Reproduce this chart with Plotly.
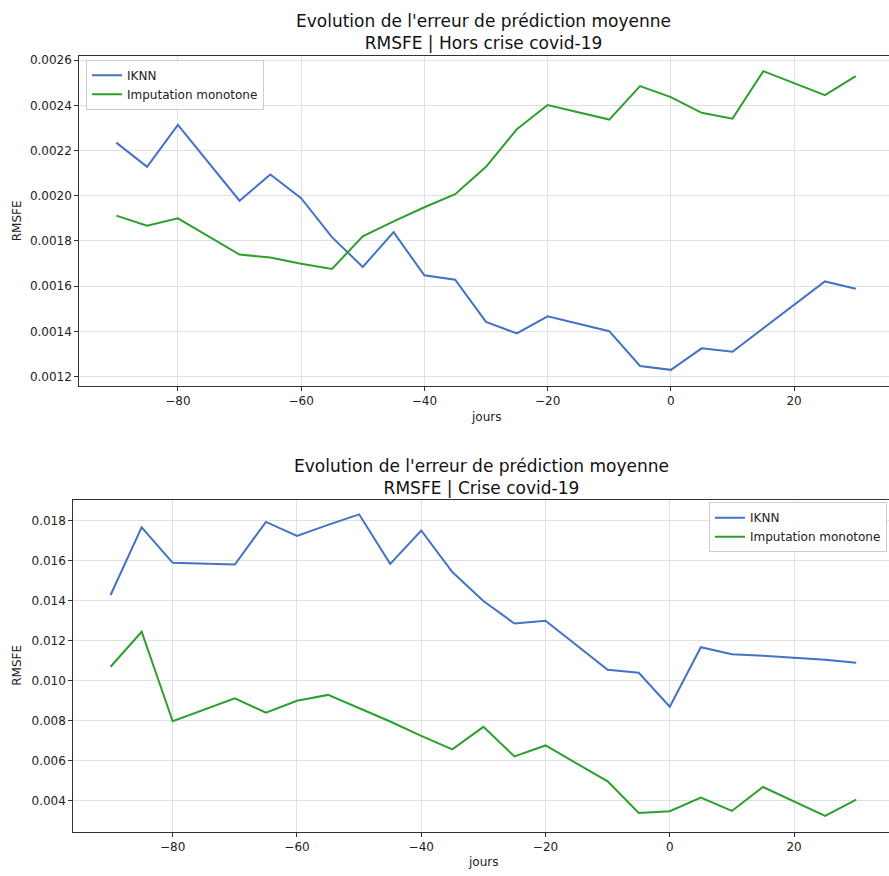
import plotly.graph_objects as go

# Horizon in days relative to the reference date
jours = [-90, -85, -80, -70, -65, -60, -55, -50, -45, -40, -35,
         -30, -25, -20, -10, -5, 0, 5, 10, 15, 25, 30]

# RMSFE outside the covid-19 crisis
hors_iknn = [0.002235, 0.002128, 0.002313, 0.001978, 0.002094, 0.001989,
             0.001817, 0.001685, 0.001839, 0.001648, 0.001629, 0.001442,
             0.001391, 0.001467, 0.001401, 0.001247, 0.001230, 0.001325,
             0.001310, 0.001413, 0.001621, 0.001589]
hors_monotone = [0.001912, 0.001868, 0.001900, 0.001740, 0.001727, 0.001699,
                 0.001676, 0.001821, 0.001887, 0.001949, 0.002007, 0.002128,
                 0.002294, 0.002401, 0.002337, 0.002485, 0.002436, 0.002367,
                 0.002341, 0.002551, 0.002445, 0.002529]

# RMSFE during the covid-19 crisis
crise_iknn = [0.01429, 0.01768, 0.01590, 0.01582, 0.01795, 0.01725,
              0.01780, 0.01833, 0.01585, 0.01752, 0.01544, 0.01399,
              0.01286, 0.01300, 0.01055, 0.01040, 0.00870, 0.01168,
              0.01133, 0.01125, 0.01105, 0.01090]
crise_monotone = [0.01070, 0.01245, 0.00797, 0.00912, 0.00840, 0.00900,
                  0.00929, 0.00862, 0.00796, 0.00724, 0.00656, 0.00769,
                  0.00621, 0.00676, 0.00496, 0.00338, 0.00347, 0.00415,
                  0.00348, 0.00468, 0.00323, 0.00405]

series_names = ["IKNN", "Imputation monotone"]
x_ticks = [-80, -60, -40, -20, 0, 20]
top_y_ticks = [0.0012, 0.0014, 0.0016, 0.0018, 0.0020, 0.0022, 0.0024, 0.0026]
bottom_y_ticks = [0.004, 0.006, 0.008, 0.010, 0.012, 0.014, 0.016, 0.018]

BLUE = "#4472c4"
GREEN = "#2ca02c"
FONT = "DejaVu Sans"
W, H = 889, 876

fig = go.Figure()

fig.add_trace(go.Scatter(x=jours, y=hors_iknn, name=series_names[0], mode="lines",
                         line=dict(color=BLUE, width=2), xaxis="x", yaxis="y",
                         legend="legend"))
fig.add_trace(go.Scatter(x=jours, y=hors_monotone, name=series_names[1], mode="lines",
                         line=dict(color=GREEN, width=2), xaxis="x", yaxis="y",
                         legend="legend"))
fig.add_trace(go.Scatter(x=jours, y=crise_iknn, name=series_names[0], mode="lines",
                         line=dict(color=BLUE, width=2), xaxis="x2", yaxis="y2",
                         legend="legend2"))
fig.add_trace(go.Scatter(x=jours, y=crise_monotone, name=series_names[1], mode="lines",
                         line=dict(color=GREEN, width=2), xaxis="x2", yaxis="y2",
                         legend="legend2"))


def px_x(p):
    return p / W


def px_y(p):
    return 1 - p / H


axis_common = dict(
    showline=True, linecolor="#333333", linewidth=1,
    ticks="outside", ticklen=4, tickcolor="#333333", tickwidth=1,
    showgrid=True, gridcolor="#e0e0e0", gridwidth=1,
    zeroline=False,
    tickfont=dict(family=FONT, size=12, color="#222222"),
)

# Top panel (x, y) and bottom panel (x2, y2)
fig.update_layout(
    xaxis=dict(domain=[px_x(79.3), 1], range=[-96, 35.4], tickvals=x_ticks,
               mirror=True, anchor="y", **axis_common),
    yaxis=dict(domain=[px_y(384), px_y(53.3)], range=[0.00116, 0.0026176],
               tickvals=top_y_ticks, tickformat=".4f", anchor="x", **axis_common),
    xaxis2=dict(domain=[px_x(73.3), 1], range=[-96, 35.28], tickvals=x_ticks,
                mirror=True, anchor="y2", **axis_common),
    yaxis2=dict(domain=[px_y(831.7), px_y(498.3)], range=[0.002434, 0.019068],
                tickvals=bottom_y_ticks, tickformat=".3f", anchor="x2", **axis_common),
)

legend_style = dict(
    bgcolor="rgba(255,255,255,0.85)", bordercolor="#cccccc", borderwidth=1,
    font=dict(family=FONT, size=12, color="#222222"),
    tracegroupgap=0, itemwidth=30,
)
fig.update_layout(
    legend=dict(x=px_x(86), y=px_y(57), xanchor="left", yanchor="top", **legend_style),
    legend2=dict(x=px_x(887), y=px_y(501), xanchor="right", yanchor="top", **legend_style),
)

title_font = dict(family=FONT, size=17, color="#111111")
label_font = dict(family=FONT, size=12, color="#222222")
annotations = [
    dict(text="Evolution de l'erreur de prédiction moyenne<br>RMSFE | Hors crise covid-19",
         x=px_x(483), y=px_y(29), xanchor="center", yanchor="middle", font=title_font),
    dict(text="Evolution de l'erreur de prédiction moyenne<br>RMSFE | Crise covid-19",
         x=px_x(481), y=px_y(476), xanchor="center", yanchor="middle", font=title_font),
    dict(text="RMSFE", x=px_x(17), y=px_y(219), textangle=-90,
         xanchor="center", yanchor="middle", font=label_font),
    dict(text="RMSFE", x=px_x(17), y=px_y(665), textangle=-90,
         xanchor="center", yanchor="middle", font=label_font),
    dict(text="jours", x=px_x(486), y=px_y(415), xanchor="center", yanchor="middle",
         font=label_font),
    dict(text="jours", x=px_x(483), y=px_y(862), xanchor="center", yanchor="middle",
         font=label_font),
]
for a in annotations:
    a.update(xref="paper", yref="paper", showarrow=False)

fig.update_layout(
    width=W, height=H,
    margin=dict(l=0, r=0, t=0, b=0),
    paper_bgcolor="white", plot_bgcolor="white",
    annotations=annotations,
    font=dict(family=FONT),
)

fig.write_html("out.html")
